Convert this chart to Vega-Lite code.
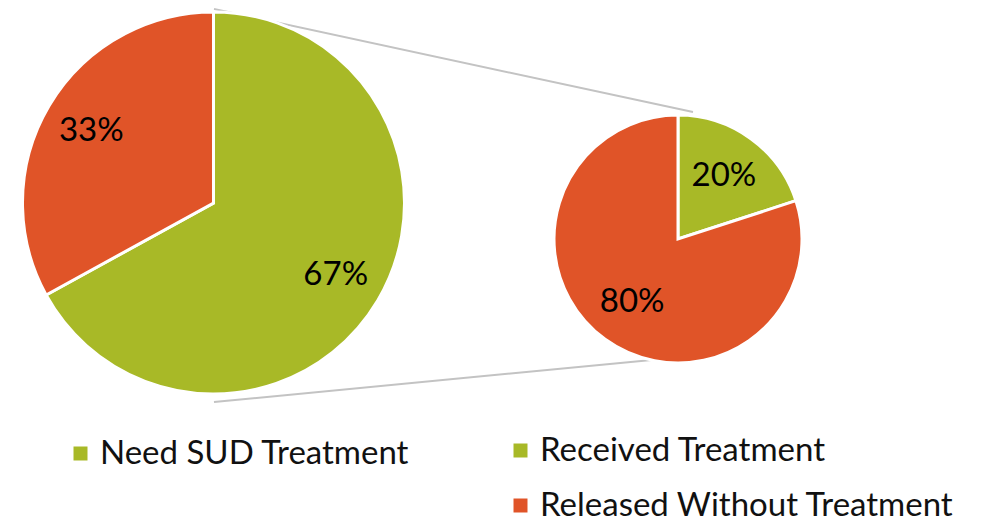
{
  "$schema": "https://vega.github.io/schema/vega-lite/v6.json",
  "width": 997,
  "height": 521,
  "padding": 0,
  "autosize": {"type": "none"},
  "background": "white",
  "config": {
    "view": {"stroke": null},
    "legend": {
      "labelFont": "Lato",
      "labelFontSize": 33,
      "labelColor": "#111111",
      "symbolType": "square",
      "symbolSize": 196,
      "symbolStrokeWidth": 0,
      "labelOffset": 3,
      "rowPadding": 21,
      "padding": 0,
      "labelLimit": 600
    }
  },
  "layer": [
    {
      "data": {"values": [{"connector": "top"}]},
      "mark": {"type": "rule", "color": "#c3c3c3", "strokeWidth": 2},
      "encoding": {
        "x": {"datum": 214, "type": "quantitative", "scale": {"domain": [0, 997], "nice": false, "zero": false}, "axis": null},
        "y": {"datum": 9, "type": "quantitative", "scale": {"domain": [0, 521], "nice": false, "zero": false, "reverse": true}, "axis": null},
        "x2": {"datum": 693},
        "y2": {"datum": 112}
      }
    },
    {
      "data": {"values": [{"connector": "bottom"}]},
      "mark": {"type": "rule", "color": "#c3c3c3", "strokeWidth": 2},
      "encoding": {
        "x": {"datum": 214, "type": "quantitative", "axis": null},
        "y": {"datum": 402, "type": "quantitative", "axis": null},
        "x2": {"datum": 662},
        "y2": {"datum": 359}
      }
    },
    {
      "data": {"values": [
        {"category": "Need SUD Treatment", "share": 0.67},
        {"category": "Other", "share": 0.33}
      ]},
      "layer": [
        {
          "mark": {"type": "arc", "outerRadius": 191, "stroke": "white", "strokeWidth": 3},
          "encoding": {
            "x": {"datum": 213.5, "type": "quantitative", "axis": null},
            "y": {"datum": 203, "type": "quantitative", "axis": null},
            "theta": {"field": "share", "type": "quantitative", "stack": true},
            "order": {"field": "category", "sort": "ascending"},
            "color": {
              "field": "category", "type": "nominal",
              "scale": {"domain": ["Need SUD Treatment", "Other"], "range": ["#a8b927", "#e05428"]},
              "legend": {"values": ["Need SUD Treatment"], "title": null, "orient": "none", "legendX": 64, "legendY": 437}
            }
          }
        },
        {
          "mark": {"type": "text", "radius": 142, "font": "Lato", "fontSize": 33, "color": "#000000", "align": "center", "baseline": "middle"},
          "encoding": {
            "x": {"datum": 213.5, "type": "quantitative", "axis": null},
            "y": {"datum": 203, "type": "quantitative", "axis": null},
            "theta": {"field": "share", "type": "quantitative", "stack": true},
            "order": {"field": "category", "sort": "ascending"},
            "text": {"field": "share", "type": "quantitative", "format": ".0%"}
          }
        }
      ],
      "resolve": {"scale": {"theta": "shared"}}
    },
    {
      "data": {"values": [
        {"category": "Received Treatment", "share": 0.2},
        {"category": "Released Without Treatment", "share": 0.8}
      ]},
      "layer": [
        {
          "mark": {"type": "arc", "outerRadius": 124, "stroke": "white", "strokeWidth": 3},
          "encoding": {
            "x": {"datum": 678, "type": "quantitative", "axis": null},
            "y": {"datum": 239, "type": "quantitative", "axis": null},
            "theta": {"field": "share", "type": "quantitative", "stack": true},
            "order": {"field": "category", "sort": "ascending"},
            "color": {
              "field": "category", "type": "nominal",
              "scale": {"domain": ["Received Treatment", "Released Without Treatment"], "range": ["#a8b927", "#e05428"]},
              "legend": {"title": null, "orient": "none", "legendX": 504, "legendY": 434}
            }
          }
        },
        {
          "mark": {"type": "text", "radius": 78, "font": "Lato", "fontSize": 33, "color": "#000000", "align": "center", "baseline": "middle"},
          "encoding": {
            "x": {"datum": 678, "type": "quantitative", "axis": null},
            "y": {"datum": 239, "type": "quantitative", "axis": null},
            "theta": {"field": "share", "type": "quantitative", "stack": true},
            "order": {"field": "category", "sort": "ascending"},
            "text": {"field": "share", "type": "quantitative", "format": ".0%"}
          }
        }
      ],
      "resolve": {"scale": {"theta": "shared"}}
    }
  ],
  "resolve": {"scale": {"color": "independent", "theta": "independent"}}
}
